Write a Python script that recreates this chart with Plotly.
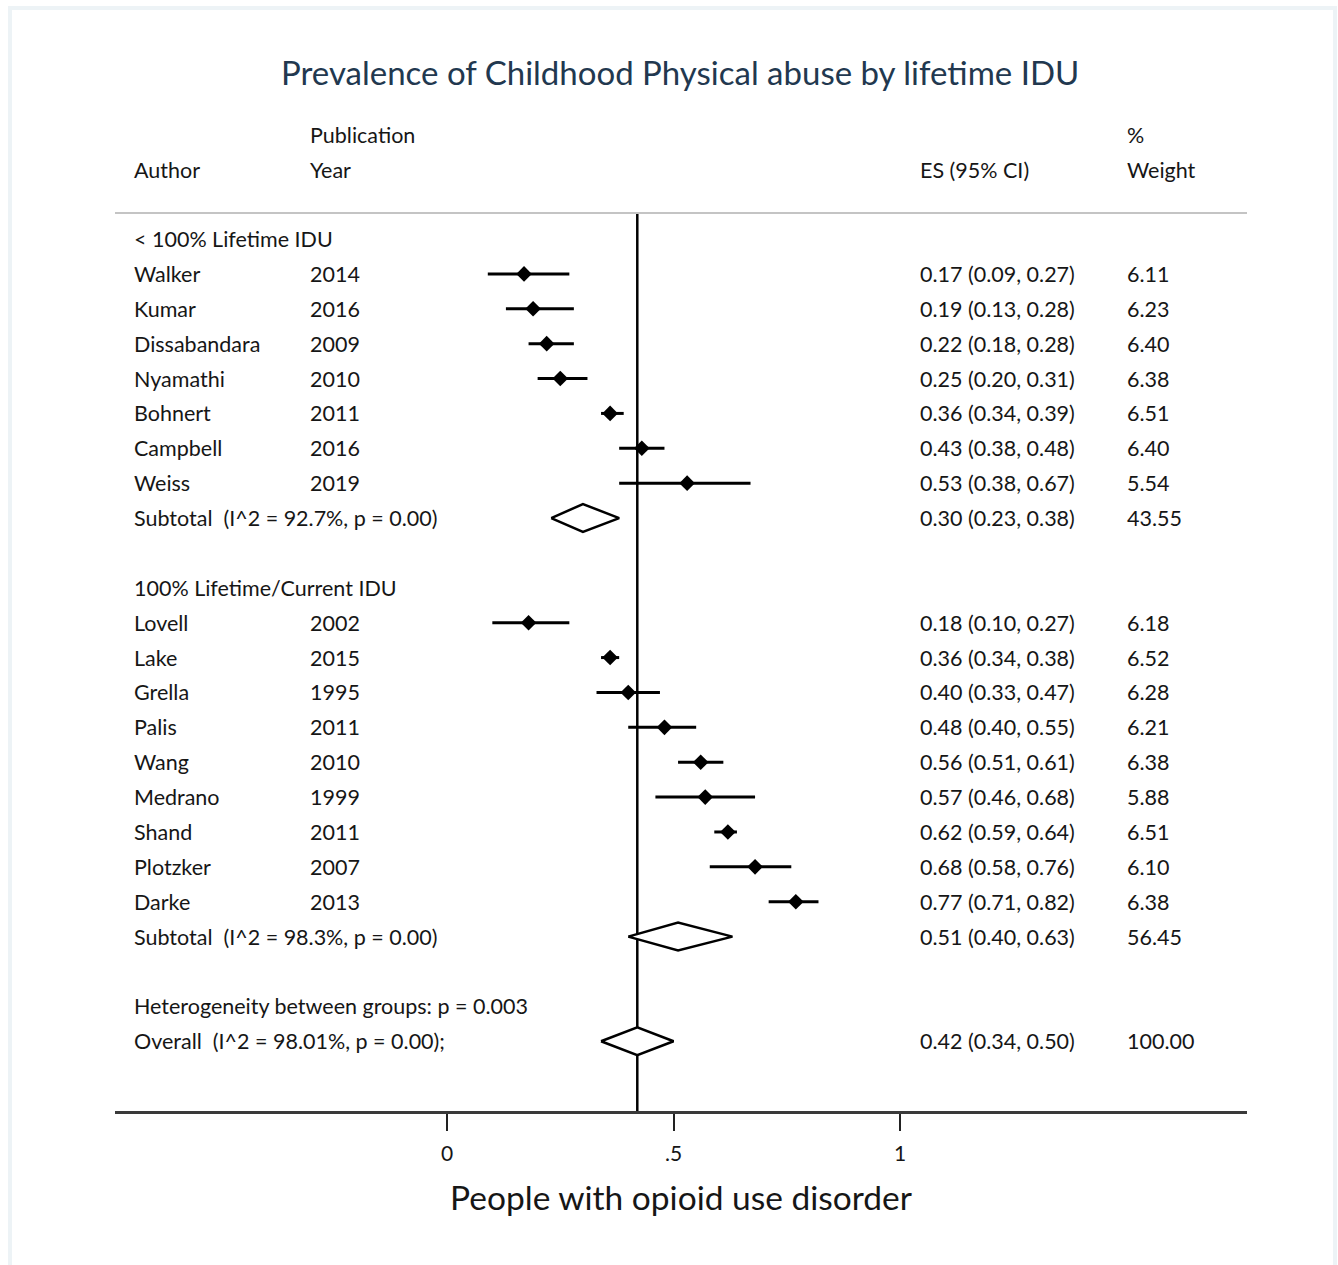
import plotly.graph_objects as go

# ---- data -------------------------------------------------------------
g1_label = "< 100% Lifetime IDU"
g1_authors = ["Walker", "Kumar", "Dissabandara", "Nyamathi", "Bohnert", "Campbell", "Weiss"]
g1_years = ["2014", "2016", "2009", "2010", "2011", "2016", "2019"]
g1_es = [0.17, 0.19, 0.22, 0.25, 0.36, 0.43, 0.53]
g1_lo = [0.09, 0.13, 0.18, 0.20, 0.34, 0.38, 0.38]
g1_hi = [0.27, 0.28, 0.28, 0.31, 0.39, 0.48, 0.67]
g1_wt = [6.11, 6.23, 6.40, 6.38, 6.51, 6.40, 5.54]
g1_sub = (0.30, 0.23, 0.38, 43.55)
g1_sub_label = "Subtotal  (I^2 = 92.7%, p = 0.00)"

g2_label = "100% Lifetime/Current IDU"
g2_authors = ["Lovell", "Lake", "Grella", "Palis", "Wang", "Medrano", "Shand", "Plotzker", "Darke"]
g2_years = ["2002", "2015", "1995", "2011", "2010", "1999", "2011", "2007", "2013"]
g2_es = [0.18, 0.36, 0.40, 0.48, 0.56, 0.57, 0.62, 0.68, 0.77]
g2_lo = [0.10, 0.34, 0.33, 0.40, 0.51, 0.46, 0.59, 0.58, 0.71]
g2_hi = [0.27, 0.38, 0.47, 0.55, 0.61, 0.68, 0.64, 0.76, 0.82]
g2_wt = [6.18, 6.52, 6.28, 6.21, 6.38, 5.88, 6.51, 6.10, 6.38]
g2_sub = (0.51, 0.40, 0.63, 56.45)
g2_sub_label = "Subtotal  (I^2 = 98.3%, p = 0.00)"

het_label = "Heterogeneity between groups: p = 0.003"
overall = (0.42, 0.34, 0.50, 100.00)
overall_label = "Overall  (I^2 = 98.01%, p = 0.00);"

tick_vals = [0, 0.5, 1]
tick_text = ["0", ".5", "1"]

title_text = "Prevalence of Childhood Physical abuse by lifetime IDU"
x_title = "People with opioid use disorder"

# ---- layout constants -------------------------------------------------
FONT = "Lato"
TXT = "#161616"
TXT_SIZE = 21.5
W, H = 1338, 1265
ML, MR, MT, MB = 115, 91, 213, 154
PLOT_W = W - ML - MR
PLOT_H = H - MT - MB
X_RANGE = [-0.733, 1.766]
Y_RANGE = [25.0, -0.746]
HALF_DIAM = 0.4

COL_AUTHOR = (132 - ML) / PLOT_W
COL_YEAR = (308 - ML) / PLOT_W
COL_ES = (918 - ML) / PLOT_W
COL_WT = (1125 - ML) / PLOT_W

fig = go.Figure()
annotations = []


def row_to_paper(row):
    return 1 - (row - Y_RANGE[1]) / (Y_RANGE[0] - Y_RANGE[1])


def text(x, row, s, size=TXT_SIZE, color=TXT, anchor="left"):
    annotations.append(dict(x=x, xref="paper", y=row_to_paper(row), yref="paper",
                            text=s, showarrow=False, xanchor=anchor,
                            yanchor="middle",
                            font=dict(family=FONT, size=size, color=color)))


def es_str(es, lo, hi):
    return f"{es:.2f} ({lo:.2f}, {hi:.2f})"


def study_rows(start, authors, years, es, lo, hi, wt):
    rows = list(range(start, start + len(authors)))
    # confidence intervals
    xs, ys = [], []
    for r, a, b in zip(rows, lo, hi):
        xs += [a, b, None]
        ys += [r, r, None]
    fig.add_trace(go.Scatter(x=xs, y=ys, mode="lines",
                             line=dict(color="black", width=3),
                             hoverinfo="skip", showlegend=False))
    # point estimates
    fig.add_trace(go.Scatter(x=es, y=rows, mode="markers",
                             marker=dict(symbol="diamond", size=12, color="black"),
                             showlegend=False))
    for r, au, yr, e, a, b, w in zip(rows, authors, years, es, lo, hi, wt):
        text(COL_AUTHOR, r, au)
        text(COL_YEAR, r, yr)
        text(COL_ES, r, es_str(e, a, b))
        text(COL_WT, r, f"{w:.2f}")
    return rows[-1]


def pooled(row, est, label):
    es, lo, hi, wt = est
    fig.add_trace(go.Scatter(x=[lo, es, hi, es, lo],
                             y=[row, row - HALF_DIAM, row, row + HALF_DIAM, row],
                             mode="lines", line=dict(color="black", width=2.5),
                             fill="toself", fillcolor="white",
                             hoverinfo="skip", showlegend=False))
    text(COL_AUTHOR, row, label)
    text(COL_ES, row, es_str(es, lo, hi))
    text(COL_WT, row, f"{wt:.2f}")


# group 1
text(COL_AUTHOR, 0, g1_label)
last = study_rows(1, g1_authors, g1_years, g1_es, g1_lo, g1_hi, g1_wt)
pooled(last + 1, g1_sub, g1_sub_label)

# group 2
g2_start = last + 3
text(COL_AUTHOR, g2_start, g2_label)
last = study_rows(g2_start + 1, g2_authors, g2_years, g2_es, g2_lo, g2_hi, g2_wt)
pooled(last + 1, g2_sub, g2_sub_label)

# heterogeneity + overall
text(COL_AUTHOR, last + 3, het_label)
pooled(last + 4, overall, overall_label)

# column headers
text(COL_AUTHOR, -1.98, "Author")
text(COL_YEAR, -2.98, "Publication")
text(COL_YEAR, -1.98, "Year")
text(COL_ES, -1.98, "ES (95% CI)")
text(COL_WT, -2.98, "%")
text(COL_WT, -1.98, "Weight")

# title
text((680 - ML) / PLOT_W, -4.8, title_text, size=33, color="#22384f",
     anchor="center")

shapes = [
    # overall effect reference line
    dict(type="line", xref="x", yref="paper", x0=overall[0], x1=overall[0],
         y0=0, y1=1, line=dict(color="black", width=2.5), layer="below"),
    # header rule
    dict(type="line", xref="paper", yref="paper", x0=0, x1=1, y0=1, y1=1,
         line=dict(color="#c4c4c4", width=2)),
    # outer frame
    dict(type="rect", xref="paper", yref="paper",
         x0=(10 - ML) / PLOT_W, x1=(1335 - ML) / PLOT_W,
         y0=-(H - 1111 + 10) / PLOT_H, y1=1 + (MT - 8) / PLOT_H,
         line=dict(color="#edf3f6", width=4)),
]

fig.update_layout(
    width=W, height=H,
    margin=dict(l=ML, r=MR, t=MT, b=MB),
    paper_bgcolor="white", plot_bgcolor="white",
    showlegend=False,
    annotations=annotations,
    shapes=shapes,
    xaxis=dict(range=X_RANGE, tickvals=tick_vals, ticktext=tick_text,
               showgrid=False, zeroline=False, showline=True,
               linecolor="#3a3a3a", linewidth=3,
               ticks="outside", ticklen=17, tickwidth=2, tickcolor="#222",
               ticklabelstandoff=5,
               tickfont=dict(family=FONT, size=21, color=TXT),
               title=dict(text=x_title, standoff=23,
                          font=dict(family=FONT, size=33.5, color=TXT)),
               fixedrange=True),
    yaxis=dict(range=Y_RANGE, visible=False, showgrid=False, zeroline=False,
               fixedrange=True),
)

fig.write_html("out.html")
